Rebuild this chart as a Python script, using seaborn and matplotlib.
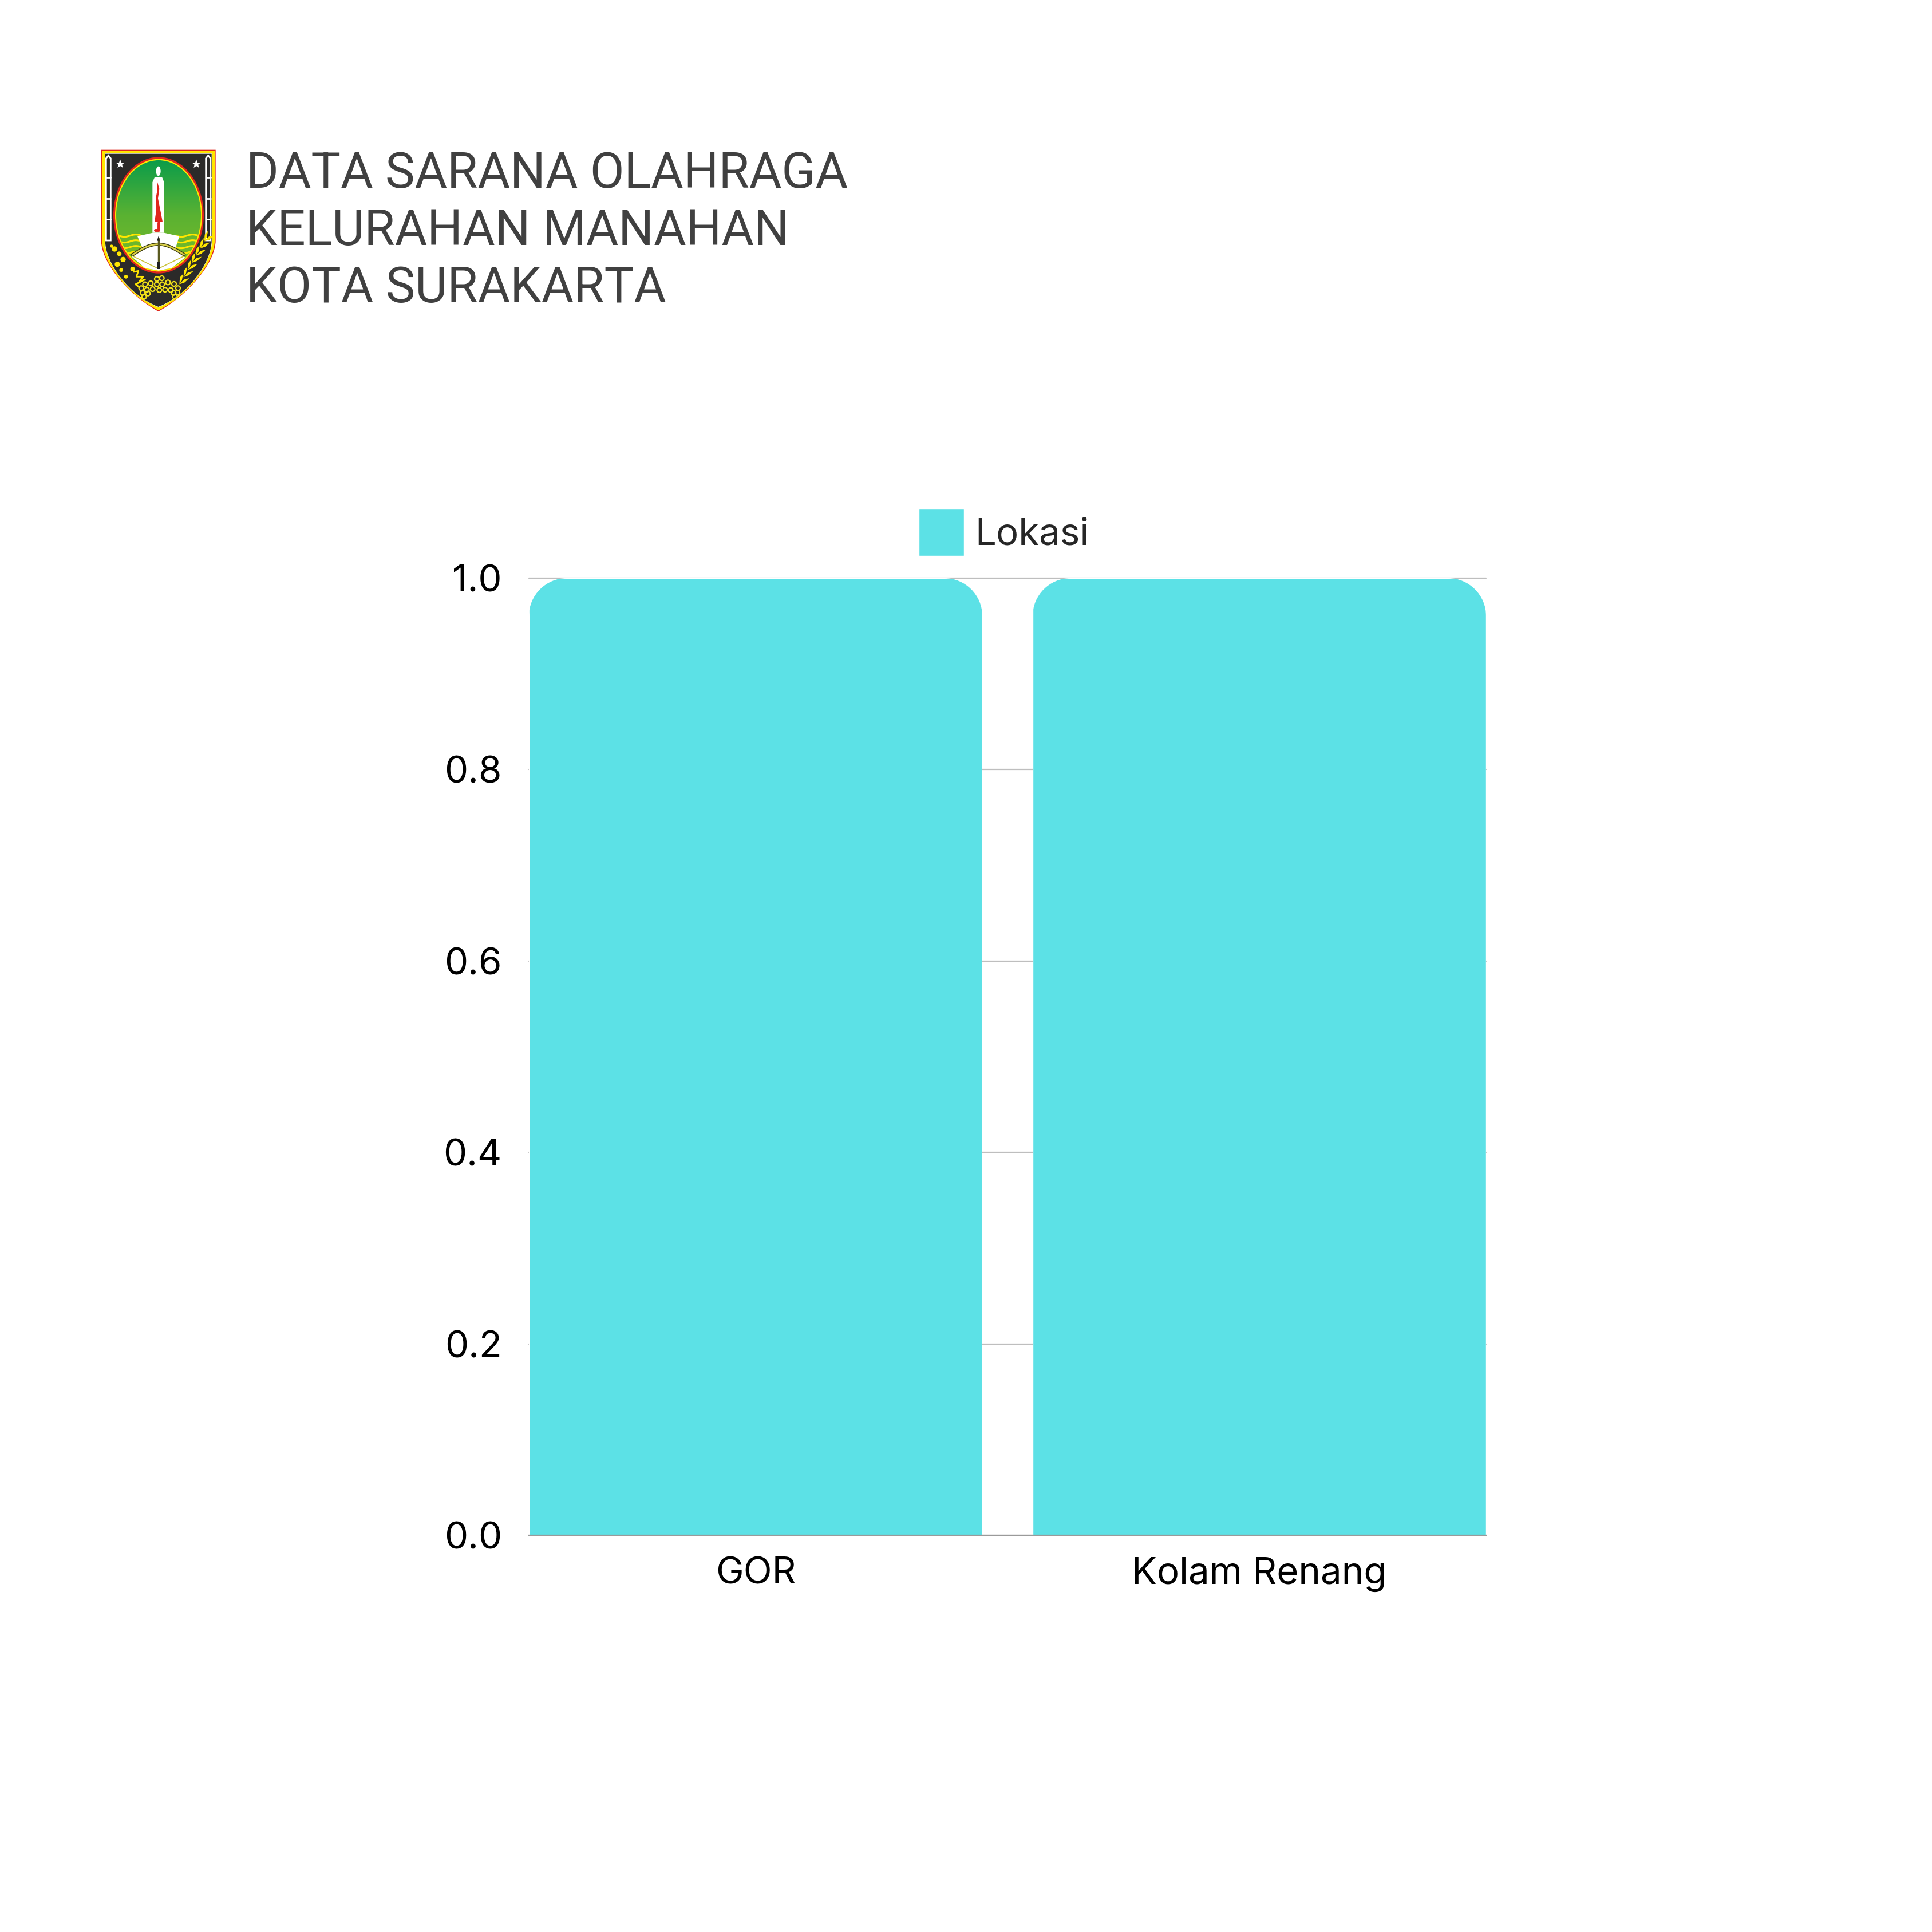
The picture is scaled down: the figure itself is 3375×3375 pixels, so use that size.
import numpy as np
import pandas as pd
import matplotlib
matplotlib.use("Agg")
import matplotlib.pyplot as plt
import seaborn as sns
from matplotlib.path import Path
from matplotlib.patches import PathPatch, Ellipse, Polygon, Circle, Rectangle
from matplotlib.transforms import IdentityTransform

sarana = ["GOR", "Kolam Renang"]
jumlah = [1, 1]
seri = ["Lokasi", "Lokasi"]
y_ticks = [0.0, 0.2, 0.4, 0.6, 0.8, 1.0]
judul = ["DATA SARANA OLAHRAGA", "KELURAHAN MANAHAN", "KOTA SURAKARTA"]

W = 3375
CYAN = "#5CE1E6"
RED = "#E0261C"
YEL = "#FFE600"
DARK = "#2B2A29"


def shield(inset):
    l, r, t = 80 + inset, 680 - inset, 95 + inset
    verts = [(l, t), (r, t), (r, 570), (r, 690), (530, 860), (380, 942 - inset * 1.15),
             (230, 860), (l, 690), (l, 570), (l, t)]
    codes = [Path.MOVETO, Path.LINETO, Path.LINETO, Path.CURVE4, Path.CURVE4, Path.CURVE4,
             Path.CURVE4, Path.CURVE4, Path.CURVE4, Path.CLOSEPOLY]
    return Path(verts, codes)


def star(ax, cx, cy, r):
    ang = np.deg2rad(np.arange(10) * 36 - 90)
    rad = np.where(np.arange(10) % 2 == 0, r, r * 0.42)
    ax.add_patch(Polygon(np.c_[cx + rad * np.cos(ang), cy + rad * np.sin(ang)], fc="white", ec="none"))


def spear(ax, x):
    ax.add_patch(Polygon([(x, 570), (x, 140), (x + 12, 125), (x + 24, 140), (x + 24, 570)],
                         fc=DARK, ec="white", lw=2))
    for yy in (240, 350, 460):
        ax.plot([x, x + 24], [yy, yy], color="white", lw=2)


def draw_logo(fig):
    # lambang kota, koordinat mengikuti potongan 300x340 piksel
    ax = fig.add_axes([150 / W, 1 - 570 / W, 300 / W, 340 / W])
    ax.set_xlim(0, 900)
    ax.set_ylim(1020, 0)
    ax.axis("off")
    for inset, col in ((0, RED), (5, YEL), (19, "white"), (21, DARK)):
        ax.add_patch(PathPatch(shield(inset), fc=col, ec="none"))
    ax.add_patch(Ellipse((381, 438), 474, 610, fc=RED, ec="none"))
    ax.add_patch(Ellipse((381, 438), 456, 590, fc=YEL, ec="none"))
    oval = Ellipse((381, 438), 444, 576, fc="none", ec="none")
    ax.add_patch(oval)
    grad = np.linspace(0, 1, 256).reshape(-1, 1)
    cmap = matplotlib.colors.LinearSegmentedColormap.from_list("g", ["#0B9C4A", "#5AB232", "#7DBB27"])
    im = ax.imshow(grad, extent=(150, 610, 730, 150), cmap=cmap, aspect="auto", zorder=2)
    im.set_clip_path(oval)
    ax.set_xlim(0, 900)
    ax.set_ylim(1020, 0)

    # ombak
    for y0 in (545, 575, 605, 635):
        for x0, x1 in ((172, 290), (470, 590)):
            xs = np.linspace(x0, x1, 60)
            ln, = ax.plot(xs, y0 + 6 * np.sin((xs - x0) / 19), color=YEL, lw=2.2, zorder=3)
            ln.set_clip_path(oval)

    # alas putih dan tugu
    base = Polygon([(270, 548), (350, 530), (410, 530), (490, 548), (470, 610), (520, 660),
                    (450, 715), (381, 728), (310, 715), (240, 655), (295, 605)],
                   fc="white", ec="none", zorder=3)
    ax.add_patch(base)
    ax.add_patch(Polygon([(349, 530), (349, 265), (360, 240), (400, 240), (410, 265), (410, 530)],
                         fc="white", ec="none", zorder=4))
    ax.add_patch(Ellipse((380, 207), 24, 50, fc="white", ec="none", zorder=4))
    # keris merah
    ax.add_patch(Polygon([(375, 265), (385, 300), (378, 350), (390, 410), (402, 472), (360, 472),
                          (368, 420), (366, 350), (374, 310)], fc=RED, ec="none", zorder=5))
    ax.plot([380, 380, 362], [476, 515, 515], color=RED, lw=3.5, zorder=5)

    # busur dan panah
    xs = np.linspace(245, 515, 60)
    ax.plot(xs, 645 - 55 * np.sin((xs - 245) / 270 * np.pi), color="#3A3A10", lw=4, zorder=6)
    ax.plot(xs, 645 - 55 * np.sin((xs - 245) / 270 * np.pi), color="#D8CF4A", lw=2, zorder=6)
    ax.plot([245, 380, 515], [652, 718, 652], color="#C9C23A", lw=1.2, zorder=6)
    ax.plot([380, 380], [560, 715], color="#5A5A20", lw=2.5, zorder=6)
    ax.add_patch(Polygon([(373, 572), (380, 548), (387, 572)], fc="#222", ec="none", zorder=6))
    ax.add_patch(Rectangle((374, 682), 12, 38, fc="#222", ec="none", zorder=6))

    star(ax, 180, 170, 24)
    star(ax, 579, 170, 24)
    spear(ax, 106)
    spear(ax, 629)

    # bunga kiri
    for x0, y0, r in ((165, 695, 14), (195, 670, 14), (150, 615, 14), (175, 640, 12), (245, 720, 12),
                      (135, 600, 8), (210, 760, 10), (185, 725, 10)):
        ax.add_patch(Circle((x0, y0), r, fc=YEL, ec="none", zorder=3))
    ax.plot([250, 275, 265, 300, 280, 310, 260, 280], [735, 730, 760, 760, 785, 775, 800, 815],
            color=YEL, lw=2, zorder=3)

    # kapas
    kapas = [(310, 800), (340, 795), (372, 772), (398, 768), (372, 800), (400, 800), (430, 790), (462, 798),
             (290, 820), (320, 828), (350, 825), (385, 830), (415, 828), (445, 830), (483, 820),
             (298, 845), (325, 848), (460, 845), (480, 843), (305, 865), (467, 865)]
    for cx, cy in kapas:
        ax.add_patch(Circle((cx, cy), 12, fc="none", ec="#F2E21A", lw=1.6, zorder=3))

    # padi
    for t in np.linspace(0, 1, 7):
        bx, by = 490 + 130 * t, 800 - 225 * t
        ax.add_patch(Polygon([(bx, by), (bx + 3, by - 36), (bx + 20, by - 55), (bx + 13, by - 20)],
                             fc=YEL, ec="none", zorder=3))
        ax.add_patch(Polygon([(bx, by), (bx + 28, by - 10), (bx + 52, by - 32), (bx + 24, by - 25)],
                             fc=YEL, ec="none", zorder=3))


def round_top(ax, radius):
    # ujung atas batang dibulatkan lewat clip path, batangnya tetap dari seaborn
    ax.figure.canvas.draw()
    k = radius * 0.45
    for bar in ax.patches:
        (x0, y0), (x1, y1) = ax.transData.transform(
            [(bar.get_x(), bar.get_y()), (bar.get_x() + bar.get_width(), bar.get_y() + bar.get_height())])
        y0 -= 3
        verts = [(x0, y0), (x0, y1 - radius), (x0, y1 - k), (x0 + k, y1), (x0 + radius, y1),
                 (x1 - radius, y1), (x1 - k, y1), (x1, y1 - k), (x1, y1 - radius), (x1, y0), (x0, y0)]
        codes = [Path.MOVETO, Path.LINETO, Path.CURVE4, Path.CURVE4, Path.CURVE4,
                 Path.LINETO, Path.CURVE4, Path.CURVE4, Path.CURVE4, Path.LINETO, Path.CLOSEPOLY]
        bar.set_clip_path(Path(verts, codes), IdentityTransform())


def main():
    sns.set_style("white")
    plt.rcParams["font.family"] = ["Inter", "DejaVu Sans"]

    df = pd.DataFrame({"sarana": sarana, "jumlah": jumlah, "seri": seri})

    fig = plt.figure(figsize=(W / 100, W / 100), dpi=100, facecolor="white")
    ax = fig.add_axes([924 / W, 1 - 2682 / W, (2596 - 924) / W, (2682 - 1010) / W])

    sns.barplot(data=df, x="sarana", y="jumlah", hue="seri", palette=[CYAN], width=0.9,
                saturation=1, dodge=False, ax=ax, zorder=3)

    ax.set_xlim(-0.45, 1.45)
    ax.set_ylim(0, 1)
    ax.set_xlabel("")
    ax.set_ylabel("")
    ax.set_yticks(y_ticks)
    ax.set_yticklabels([f"{v:.1f}" for v in y_ticks])
    ax.tick_params(axis="both", length=0, labelsize=47, labelcolor="black")
    ax.tick_params(axis="y", pad=34)
    ax.tick_params(axis="x", pad=27)
    ax.grid(axis="y", color="#BEBEBE", lw=1.6, zorder=1)
    for gl in ax.get_ygridlines():
        gl.set_clip_on(False)
    ax.set_axisbelow(True)
    sns.despine(ax=ax, left=True, right=True, top=True)
    ax.spines["bottom"].set_color("#9A9A9A")
    ax.spines["bottom"].set_linewidth(1.6)
    ax.spines["bottom"].set_zorder(4)

    handles, labels = ax.get_legend_handles_labels()
    ax.legend(handles, labels, loc="lower left", bbox_to_anchor=(1605 / W, 1 - 971 / W),
              bbox_transform=fig.transFigure, frameon=False, fontsize=47, borderpad=0,
              borderaxespad=0, handlelength=1.21, handleheight=1.56, handletextpad=0.3)

    round_top(ax, 66)

    for line, y in zip(judul, (304, 404, 504)):
        fig.text(430 / W, 1 - y / W, line, fontsize=62.5, color="#404040", family="Roboto",
                 va="center", ha="left")

    draw_logo(fig)

    fig.savefig("out.png", dpi=100, facecolor="white")
    plt.close(fig)


if __name__ == "__main__":
    main()
